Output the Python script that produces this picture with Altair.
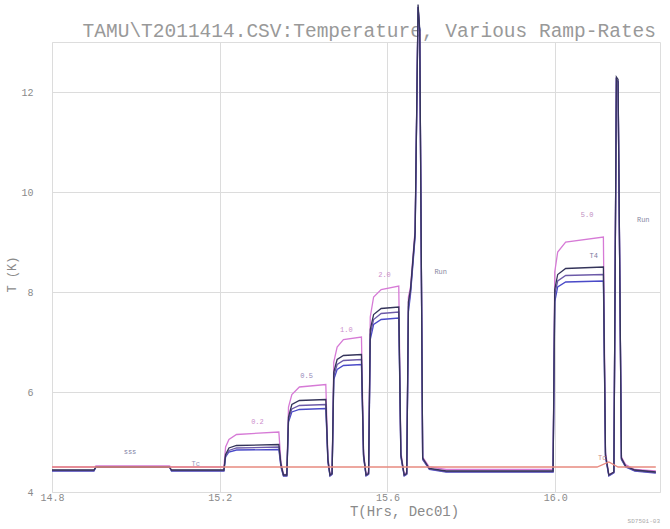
import altair as alt
import pandas as pd

# Time axis (hours, Dec 01) shared by the four sensor traces
TIME = [
    14.800, 14.900, 14.905, 15.080, 15.085, 15.210,
    15.214, 15.222, 15.240, 15.341, 15.346, 15.352,
    15.360, 15.364, 15.372, 15.390, 15.453, 15.458, 15.463,
    15.468, 15.472, 15.480, 15.495, 15.538, 15.543, 15.549,
    15.555, 15.559, 15.567, 15.585, 15.627, 15.632, 15.640,
    15.646, 15.650, 15.655, 15.666, 15.673, 15.677, 15.684, 15.700, 15.740,
    15.995, 15.999, 16.006, 16.025, 16.115, 16.120, 16.128,
    16.140, 16.146, 16.150, 16.158, 16.168, 16.190, 16.240,
]

# Temperatures (K) of each trace
PINK = [
    4.50, 4.50, 4.52, 4.52, 4.50, 4.50,
    4.90, 5.05, 5.15, 5.20, 4.60, 4.35,
    4.35, 5.70, 5.95, 6.10, 6.15, 4.70, 4.35,
    4.40, 6.60, 6.90, 7.05, 7.10, 4.80, 4.35,
    4.40, 7.50, 7.90, 8.05, 8.12, 4.80, 4.35,
    4.40, 7.90, 8.10, 9.25, 13.70, 13.20, 4.70, 4.50, 4.45,
    4.45, 8.40, 8.80, 9.00, 9.10, 4.80, 4.35,
    4.40, 12.25, 12.20, 4.70, 4.55, 4.45, 4.42,
]
BLUE = [
    4.42, 4.42, 4.50, 4.50, 4.42, 4.42,
    4.70, 4.80, 4.84, 4.85, 4.50, 4.32,
    4.32, 5.40, 5.60, 5.65, 5.67, 4.60, 4.32,
    4.35, 6.25, 6.45, 6.53, 6.55, 4.70, 4.32,
    4.35, 7.05, 7.35, 7.45, 7.48, 4.70, 4.32,
    4.35, 7.60, 7.95, 9.10, 13.70, 13.20, 4.65, 4.45, 4.40,
    4.40, 7.80, 8.10, 8.20, 8.22, 4.70, 4.32,
    4.38, 12.25, 12.20, 4.65, 4.50, 4.42, 4.38,
]
PURPLE = [
    4.43, 4.43, 4.50, 4.50, 4.43, 4.43,
    4.72, 4.83, 4.88, 4.90, 4.52, 4.33,
    4.33, 5.45, 5.66, 5.73, 5.75, 4.62, 4.33,
    4.36, 6.32, 6.55, 6.63, 6.65, 4.72, 4.33,
    4.36, 7.15, 7.45, 7.57, 7.60, 4.72, 4.33,
    4.36, 7.70, 8.00, 9.15, 13.70, 13.20, 4.66, 4.46, 4.41,
    4.41, 7.95, 8.22, 8.33, 8.35, 4.72, 4.33,
    4.39, 12.25, 12.20, 4.66, 4.51, 4.43, 4.39,
]
NAVY = [
    4.44, 4.44, 4.50, 4.50, 4.44, 4.44,
    4.75, 4.88, 4.93, 4.95, 4.55, 4.34,
    4.34, 5.50, 5.75, 5.83, 5.85, 4.65, 4.34,
    4.37, 6.40, 6.65, 6.73, 6.75, 4.75, 4.34,
    4.37, 7.25, 7.55, 7.67, 7.70, 4.75, 4.34,
    4.37, 7.80, 8.05, 9.20, 13.75, 13.25, 4.68, 4.47, 4.42,
    4.42, 8.05, 8.35, 8.47, 8.50, 4.75, 4.34,
    4.40, 12.30, 12.25, 4.68, 4.52, 4.44, 4.40,
]

# Reference (cold-stage) trace
BASE_TIME = [14.800, 16.100, 16.128, 16.150, 16.240]
BASE_TEMP = [4.50, 4.50, 4.60, 4.50, 4.50]

SERIES = [
    ("T1", PINK, "#d67ad6"),
    ("T2", BLUE, "#4a4ac8"),
    ("T3", PURPLE, "#6c5aa8"),
    ("T4", NAVY, "#34345a"),
]

# Small in-plot annotations
LABEL_TIME = [14.986, 15.143, 15.290, 15.407, 15.502, 15.593, 15.727, 16.076, 16.092, 16.112, 16.210]
LABEL_TEMP = [4.80, 4.56, 5.40, 6.32, 7.25, 8.35, 8.40, 9.55, 8.72, 4.68, 9.45]
LABEL_TEXT = ["sss", "Tc", "0.2", "0.5", "1.0", "2.0", "Run", "5.0", "T4", "Tc", "Run"]
LABEL_COLOR = ["#5a5a8a", "#7a7aaa", "#c070c0", "#7a6aa8", "#c070c0", "#c070c0",
               "#6a6a8a", "#b070b0", "#5a5a8a", "#c07070", "#6a6a8a"]

TITLE = "TAMU\\T2011414.CSV:Temperature, Various Ramp-Rates"
FOOTER = "SD7501-03"

FONT = "Liberation Mono"
GRAY = "#8a8a8a"

x_scale = alt.Scale(domain=[14.8, 16.25], nice=False, zero=False)
y_scale = alt.Scale(domain=[4, 13], nice=False, zero=False)

x_axis = alt.Axis(values=[14.8, 15.2, 15.6, 16.0], format=".1f", title="T(Hrs, Dec01)",
                  grid=True, gridColor="#dcdcdc", domain=False, ticks=False,
                  labelFlush=False,
                  labelFont=FONT, labelFontSize=10, labelColor=GRAY, labelPadding=0,
                  titleFont=FONT, titleFontSize=14, titleFontWeight="normal",
                  titleColor=GRAY, titleX=352, titleY=12, titleAnchor="middle",
                  titleAlign="center")
y_axis = alt.Axis(values=[4, 6, 8, 10, 12], format="d", title="T (K)",
                  grid=True, gridColor="#dcdcdc", domain=False, ticks=False,
                  labelFlush=False,
                  labelFont=FONT, labelFontSize=10, labelColor=GRAY, labelPadding=19,
                  titleFont=FONT, titleFontSize=12, titleFontWeight="normal",
                  titleColor=GRAY, titleX=-34, titleY=232)

X = alt.X("t:Q", scale=x_scale, axis=x_axis)
Y = alt.Y("T:Q", scale=y_scale, axis=y_axis)

layers = []

# Chart heading, drawn beneath the traces
head_df = pd.DataFrame({"txt": [TITLE]})
layers.append(
    alt.Chart(head_df).mark_text(font=FONT, fontSize=19.5, color="#999999", align="right",
                                 baseline="bottom").encode(
        x=alt.value(604), y=alt.value(-1), text="txt:N"
    )
)

for name, vals, color in SERIES:
    df = pd.DataFrame({"t": TIME, "T": vals, "sensor": name})
    layers.append(
        alt.Chart(df).mark_line(color=color, strokeWidth=1.3, clip=False).encode(x=X, y=Y)
    )

base_df = pd.DataFrame({"t": BASE_TIME, "T": BASE_TEMP})
layers.append(
    alt.Chart(base_df).mark_line(color="#e88a80", strokeWidth=1.3).encode(x=X, y=Y)
)

lab_df = pd.DataFrame({"t": LABEL_TIME, "T": LABEL_TEMP, "txt": LABEL_TEXT, "c": LABEL_COLOR})
layers.append(
    alt.Chart(lab_df).mark_text(font=FONT, fontSize=7, opacity=0.8).encode(
        x=X, y=Y, text="txt:N", color=alt.Color("c:N", scale=None),
    )
)

foot_df = pd.DataFrame({"txt": [FOOTER]})
layers.append(
    alt.Chart(foot_df).mark_text(font=FONT, fontSize=6, color="#aaaaaa", align="right").encode(
        x=alt.value(608), y=alt.value(479), text="txt:N"
    )
)

chart = alt.layer(*layers).properties(
    width=608,
    height=450,
    autosize=alt.AutoSizeParams(type="none"),
    padding={"left": 52, "top": 42, "right": 10, "bottom": 37},
).configure_view(stroke="#d0d0d0", strokeWidth=1).configure(background="white")

chart.save("out.html", embed_options={"renderer": "svg", "actions": False})
